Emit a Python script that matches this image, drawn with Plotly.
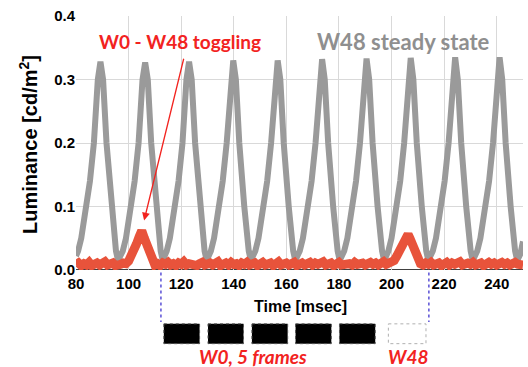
import plotly.graph_objects as go

# ---- data ----
gray_t = [80.0, 80.8, 82.0, 83.9, 85.3, 86.8, 88.3, 89.3, 90.3, 91.6, 93.5, 94.4, 95.2, 96.0,
          97.8, 99.0, 100.9, 102.3, 103.8, 105.3, 106.3, 107.3, 108.6, 110.5, 111.4, 112.2, 113.0,
          114.5, 115.7, 117.6, 119.0, 120.5, 122.0, 123.0, 124.0, 125.3, 127.2, 128.1, 128.9, 129.7,
          131.3, 132.5, 134.4, 135.8, 137.3, 138.8, 139.8, 140.8, 142.1, 144.0, 144.9, 145.7, 146.5,
          148.2, 149.4, 151.3, 152.7, 154.2, 155.7, 156.7, 157.7, 159.0, 160.9, 161.8, 162.6, 163.4,
          165.1, 166.3, 168.2, 169.6, 171.1, 172.6, 173.6, 174.6, 175.9, 177.8, 178.7, 179.5, 180.3,
          182.0, 183.2, 185.1, 186.5, 188.0, 189.5, 190.5, 191.5, 192.8, 194.7, 195.6, 196.4, 197.2,
          198.8, 200.0, 201.9, 203.3, 204.8, 206.3, 207.3, 208.3, 209.6, 211.5, 212.4, 213.2, 214.0,
          215.7, 216.9, 218.8, 220.2, 221.7, 223.2, 224.2, 225.2, 226.5, 228.4, 229.3, 230.1, 230.9,
          232.6, 233.8, 235.7, 237.1, 238.6, 240.1, 241.1, 242.1, 243.4, 245.3, 246.2, 247.0, 247.8,
          249.0, 250.0]
gray_v = [0.022, 0.03, 0.05, 0.10, 0.14, 0.20, 0.30, 0.328, 0.30, 0.20, 0.10, 0.05, 0.03, 0.015,
          0.03, 0.05, 0.10, 0.14, 0.20, 0.30, 0.327, 0.30, 0.20, 0.10, 0.05, 0.03, 0.015,
          0.03, 0.05, 0.10, 0.14, 0.20, 0.30, 0.328, 0.30, 0.20, 0.10, 0.05, 0.03, 0.015,
          0.03, 0.05, 0.10, 0.14, 0.20, 0.30, 0.330, 0.30, 0.20, 0.10, 0.05, 0.03, 0.015,
          0.03, 0.05, 0.10, 0.14, 0.20, 0.30, 0.330, 0.30, 0.20, 0.10, 0.05, 0.03, 0.015,
          0.03, 0.05, 0.10, 0.14, 0.20, 0.30, 0.332, 0.30, 0.20, 0.10, 0.05, 0.03, 0.015,
          0.03, 0.05, 0.10, 0.14, 0.20, 0.30, 0.333, 0.30, 0.20, 0.10, 0.05, 0.03, 0.015,
          0.03, 0.05, 0.10, 0.14, 0.20, 0.30, 0.334, 0.30, 0.20, 0.10, 0.05, 0.03, 0.015,
          0.03, 0.05, 0.10, 0.14, 0.20, 0.30, 0.335, 0.30, 0.20, 0.10, 0.05, 0.03, 0.015,
          0.03, 0.05, 0.10, 0.14, 0.20, 0.30, 0.335, 0.30, 0.20, 0.10, 0.05, 0.03, 0.015,
          0.025, 0.045]

red_t = [80, 81, 82, 83, 84, 85, 86, 87, 88, 89, 90, 91, 92, 93, 94, 95, 96, 97, 98,
         99, 100, 101, 102, 103, 104, 105, 106, 107, 108, 109, 110,
         111, 112, 113, 114, 115, 116, 117, 118, 119, 120, 121, 122, 123, 124, 125, 126, 127, 128, 129,
         130, 131, 132, 133, 134, 135, 136, 137, 138, 139, 140, 141, 142, 143, 144, 145, 146, 147, 148, 149,
         150, 151, 152, 153, 154, 155, 156, 157, 158, 159, 160, 161, 162, 163, 164, 165, 166, 167, 168, 169,
         170, 171, 172, 173, 174, 175, 176, 177, 178, 179, 180, 181, 182, 183, 184, 185, 186, 187, 188, 189,
         190, 191, 192, 193, 194, 195, 196, 197, 198, 199,
         200, 201, 202, 203, 204, 205, 206, 206.3, 207, 208, 209, 210, 211,
         212, 213, 214, 215, 216, 217, 218, 219, 220, 221, 222, 223, 224, 225, 226, 227, 228, 229,
         230, 231, 232, 233, 234, 235, 236, 237, 238, 239, 240, 241, 242, 243, 244, 245, 246, 247, 248, 249, 250]
red_v = [0.008, 0.011, 0.007, 0.010, 0.008, 0.012, 0.007, 0.009, 0.011, 0.008, 0.010, 0.013, 0.008, 0.009, 0.011, 0.007, 0.010, 0.009, 0.011,
         0.010, 0.014, 0.021, 0.031, 0.041, 0.052, 0.062, 0.050, 0.037, 0.025, 0.014, 0.008,
         0.010, 0.007, 0.011, 0.009, 0.012, 0.008, 0.010, 0.007, 0.011, 0.009, 0.013, 0.008, 0.010, 0.009, 0.011, 0.007, 0.010, 0.012, 0.008,
         0.009, 0.011, 0.008, 0.010, 0.013, 0.007, 0.009, 0.011, 0.008, 0.012, 0.009, 0.010, 0.007, 0.011, 0.009, 0.012, 0.008, 0.010, 0.011, 0.007,
         0.010, 0.012, 0.008, 0.009, 0.011, 0.007, 0.010, 0.013, 0.008, 0.009, 0.011, 0.008, 0.010, 0.012, 0.007, 0.009, 0.011, 0.008, 0.010, 0.012,
         0.008, 0.011, 0.009, 0.010, 0.013, 0.008, 0.009, 0.011, 0.007, 0.010, 0.012, 0.008, 0.009, 0.011, 0.010, 0.008, 0.012, 0.009, 0.010, 0.011,
         0.008, 0.010, 0.012, 0.009, 0.011, 0.008, 0.010, 0.013, 0.009, 0.011,
         0.012, 0.015, 0.022, 0.031, 0.040, 0.048, 0.055, 0.056, 0.050, 0.039, 0.028, 0.017, 0.010,
         0.008, 0.011, 0.009, 0.012, 0.008, 0.010, 0.011, 0.007, 0.010, 0.012, 0.008, 0.011, 0.009, 0.010, 0.013, 0.008, 0.010, 0.011,
         0.009, 0.012, 0.008, 0.010, 0.011, 0.007, 0.010, 0.012, 0.009, 0.011, 0.008, 0.010, 0.012, 0.009, 0.011, 0.008, 0.010, 0.012, 0.009, 0.010, 0.008]

x_ticks = [80, 100, 120, 140, 160, 180, 200, 220, 240]
y_ticks = [0.0, 0.1, 0.2, 0.3, 0.4]

# frame boxes below the axis (time positions, ms)
w0_frames = [(113.4, 127.0), (130.2, 143.7), (146.9, 160.5), (163.5, 177.1), (180.2, 193.8)]
w48_frame = (198.8, 213.1)
marker_lines = [112.3, 214.2]

GRAY = "#9a9a9a"
RED_LINE = "#e8533b"
RED_TEXT = "#f2231f"
BOLD = "Liberation Sans"

fig = go.Figure()
fig.add_trace(go.Scatter(x=gray_t, y=gray_v, mode="lines",
                         line=dict(color=GRAY, width=6), showlegend=False))
fig.add_trace(go.Scatter(x=red_t, y=red_v, mode="lines",
                         line=dict(color=RED_LINE, width=9), showlegend=False))

fig.update_layout(
    width=528, height=367,
    margin=dict(l=76, r=5, t=16, b=97),
    plot_bgcolor="white", paper_bgcolor="white",
    showlegend=False,
)
fig.update_xaxes(range=[80, 250], tickvals=x_ticks, ticktext=[f"<b>{v}</b>" for v in x_ticks],
                 showgrid=True, gridcolor="#d9d9d9", gridwidth=1,
                 zeroline=False, showline=False, ticks="", ticklabelstandoff=3,
                 tickfont=dict(family=BOLD, size=15, color="black"))
fig.update_yaxes(range=[0, 0.4], tickvals=y_ticks, ticktext=[f"<b>{v:.1f}</b>" for v in y_ticks],
                 showgrid=True, gridcolor="#d9d9d9", gridwidth=1,
                 zeroline=False, showline=False, ticks="",
                 tickfont=dict(family=BOLD, size=15, color="black"))

# axis titles
fig.add_annotation(x=(300 - 76) / 447, y=(270 - 306) / 254, xref="paper", yref="paper",
                   xanchor="center", yanchor="middle", showarrow=False,
                   text="<b>Time [msec]</b>",
                   font=dict(family=BOLD, size=16, color="black"))
fig.add_annotation(x=(28 - 76) / 447, y=(270 - 145) / 254, xref="paper", yref="paper",
                   xanchor="center", yanchor="middle", showarrow=False, textangle=-90,
                   text="<b>Luminance [cd/m<sup>2</sup>]</b>",
                   font=dict(family=BOLD, size=20, color="black"))

# x axis baseline
fig.add_shape(type="line", xref="paper", yref="y", x0=0, x1=1, y0=0, y1=0,
              line=dict(color="black", width=1.5), layer="below")

# dotted blue markers
for xm in marker_lines:
    fig.add_shape(type="line", xref="x", yref="paper", x0=xm, x1=xm, y0=-0.01, y1=-0.205,
                  line=dict(color="#5a4fd6", width=1.5, dash="dot"))

for a, b in w0_frames:
    fig.add_shape(type="rect", xref="x", yref="paper", x0=a, x1=b, y0=-0.212, y1=-0.29,
                  fillcolor="black", line=dict(color="#555555", width=1, dash="dot"))
fig.add_shape(type="rect", xref="x", yref="paper", x0=w48_frame[0], x1=w48_frame[1],
              y0=-0.212, y1=-0.29, fillcolor="white",
              line=dict(color="#b0b0b0", width=1, dash="dot"))

fig.add_annotation(x=0.047, y=0.898, xref="paper", yref="paper", xanchor="left", yanchor="middle",
                   text="W0 - W48 toggling", showarrow=False,
                   font=dict(family="Lato", size=19, color=RED_TEXT, weight="bold"))
fig.add_annotation(x=0.535, y=0.898, xref="paper", yref="paper", xanchor="left", yanchor="middle",
                   text="W48 steady state", showarrow=False,
                   font=dict(family="Lato", size=22, color="#8f8f8f", weight="bold"))
fig.add_annotation(x=105.9, y=0.078, ax=121.1, ay=0.335, xref="x", yref="y", axref="x", ayref="y",
                   text="", showarrow=True, arrowhead=2, arrowsize=1.2, arrowwidth=1.3,
                   arrowcolor=RED_TEXT)
fig.add_annotation(x=147.3, y=-0.342, xref="x", yref="paper", xanchor="center", yanchor="middle",
                   text="<i>W0, 5 frames</i>", showarrow=False,
                   font=dict(family="Lato", size=19, color=RED_TEXT, weight="bold"))
fig.add_annotation(x=206.2, y=-0.342, xref="x", yref="paper", xanchor="center", yanchor="middle",
                   text="<i>W48</i>", showarrow=False,
                   font=dict(family="Lato", size=19, color=RED_TEXT, weight="bold"))

fig.write_html("out.html")
